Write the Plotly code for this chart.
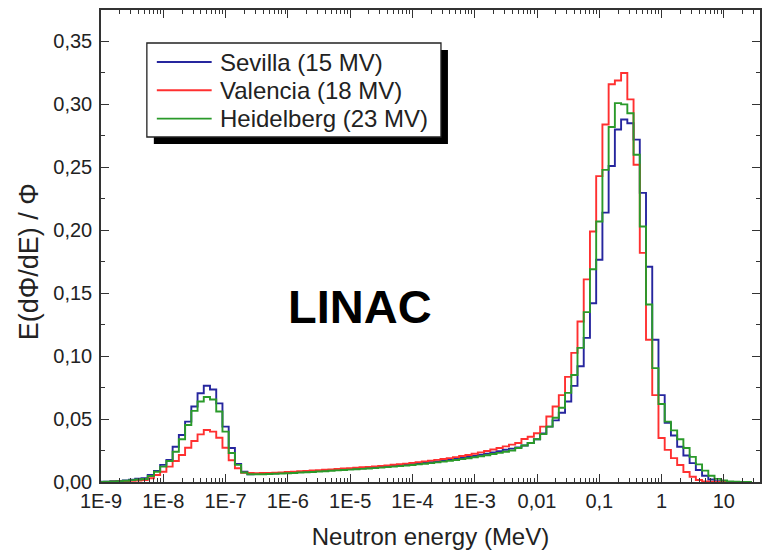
import numpy as np
import plotly.graph_objects as go

# ---- binning: 10 log-bins per decade, bin centres start at log10(E) = -9.0 ----
LOG_FIRST_CENTER = -9.0
LOG_BIN_WIDTH = 0.1

# ---- Sevilla (15 MV) ----
SEVILLA_THERMAL = [0.0002, 0.0003, 0.0006, 0.0009, 0.0013, 0.0019, 0.0026, 0.0031, 0.0056, 0.0088,
                   0.0136, 0.0176, 0.0280, 0.0373, 0.0480, 0.0600, 0.0705, 0.0765, 0.0735, 0.0625,
                   0.0440, 0.0270, 0.0143, 0.0082, 0.0061]
SEVILLA_EPI = [0.0063, 0.0065, 0.0067, 0.0069, 0.0071, 0.0073, 0.0076, 0.0079, 0.0082, 0.0085,
               0.0088, 0.0091, 0.0094, 0.0097, 0.0100, 0.0103, 0.0106, 0.0109, 0.0112, 0.0116,
               0.0120, 0.0124, 0.0128, 0.0132, 0.0137, 0.0142, 0.0147, 0.0152, 0.0158, 0.0164,
               0.0170, 0.0177, 0.0184, 0.0191, 0.0199, 0.0207, 0.0216, 0.0225, 0.0235, 0.0245,
               0.0256, 0.0265]
SEVILLA_FAST = [0.0275, 0.0290, 0.0310, 0.0340, 0.0385, 0.0440, 0.0490, 0.0550, 0.0640, 0.0764,
                0.0920, 0.1145, 0.1420, 0.1766, 0.2140, 0.2510, 0.2800, 0.2880, 0.2850, 0.2720,
                0.2297, 0.1710, 0.1130, 0.0690, 0.0470, 0.0370, 0.0280, 0.0210, 0.0150, 0.0095,
                0.0050, 0.0020, 0.0006, 0.0002, 0.0, 0.0, 0.0, 0.0]

# ---- Valencia (18 MV) ----
VALENCIA_THERMAL = [0.0001, 0.0001, 0.0002, 0.0004, 0.0006, 0.0009, 0.0012, 0.0015, 0.0030, 0.0056,
                    0.0082, 0.0122, 0.0167, 0.0214, 0.0272, 0.0326, 0.0378, 0.0413, 0.0400, 0.0352,
                    0.0272, 0.0173, 0.0109, 0.0074, 0.0071]
VALENCIA_EPI = [0.0070, 0.0071, 0.0072, 0.0074, 0.0076, 0.0079, 0.0082, 0.0085, 0.0088, 0.0091,
                0.0094, 0.0097, 0.0100, 0.0103, 0.0107, 0.0110, 0.0113, 0.0117, 0.0120, 0.0124,
                0.0128, 0.0132, 0.0137, 0.0141, 0.0146, 0.0152, 0.0158, 0.0164, 0.0170, 0.0176,
                0.0183, 0.0190, 0.0198, 0.0206, 0.0215, 0.0225, 0.0235, 0.0246, 0.0258, 0.0270,
                0.0283, 0.0297]
VALENCIA_FAST = [0.0310, 0.0342, 0.0360, 0.0387, 0.0440, 0.0520, 0.0600, 0.0690, 0.0835, 0.1026,
                 0.1275, 0.1610, 0.1990, 0.2430, 0.2840, 0.3160, 0.3190, 0.3250, 0.3040, 0.2520,
                 0.1820, 0.1130, 0.0690, 0.0350, 0.0255, 0.0190, 0.0135, 0.0080, 0.0042, 0.0016,
                 0.0005, 0.0002, 0.0, 0.0, 0.0, 0.0, 0.0, 0.0]

# ---- Heidelberg (23 MV) ----
HEIDELBERG_THERMAL = [0.0001, 0.0002, 0.0004, 0.0007, 0.0010, 0.0015, 0.0020, 0.0024, 0.0048, 0.0082,
                      0.0122, 0.0167, 0.0240, 0.0340, 0.0453, 0.0565, 0.0640, 0.0675, 0.0655, 0.0560,
                      0.0400, 0.0230, 0.0136, 0.0075, 0.0062]
HEIDELBERG_EPI = [0.0061, 0.0062, 0.0064, 0.0066, 0.0068, 0.0070, 0.0072, 0.0075, 0.0078, 0.0080,
                  0.0083, 0.0086, 0.0089, 0.0092, 0.0095, 0.0098, 0.0101, 0.0104, 0.0107, 0.0110,
                  0.0114, 0.0118, 0.0122, 0.0126, 0.0130, 0.0135, 0.0140, 0.0145, 0.0150, 0.0156,
                  0.0162, 0.0168, 0.0175, 0.0182, 0.0189, 0.0197, 0.0205, 0.0213, 0.0222, 0.0231,
                  0.0240, 0.0250]
HEIDELBERG_FAST = [0.0270, 0.0290, 0.0310, 0.0340, 0.0380, 0.0440, 0.0510, 0.0590, 0.0708, 0.0850,
                   0.1066, 0.1350, 0.1690, 0.2070, 0.2480, 0.2820, 0.3010, 0.3000, 0.2930, 0.2600,
                   0.2030, 0.1410, 0.0905, 0.0620, 0.0480, 0.0410, 0.0340, 0.0270, 0.0200, 0.0140,
                   0.0090, 0.0050, 0.0025, 0.0012, 0.0005, 0.0002, 0.0, 0.0]

SERIES_NAMES = ["Sevilla (15 MV)", "Valencia (18 MV)", "Heidelberg (23 MV)"]
SERIES_COLORS = ["#26269e", "#ff3030", "#2a9a2a"]

X_TICK_VALUES = [1e-9, 1e-8, 1e-7, 1e-6, 1e-5, 1e-4, 1e-3, 1e-2, 1e-1, 1, 10]
X_TICK_LABELS = ["1E-9", "1E-8", "1E-7", "1E-6", "1E-5", "1E-4", "1E-3", "0,01", "0,1", "1", "10"]
Y_TICK_VALUES = [0.0, 0.05, 0.10, 0.15, 0.20, 0.25, 0.30, 0.35]
Y_TICK_LABELS = ["0,00", "0,05", "0,10", "0,15", "0,20", "0,25", "0,30", "0,35"]

X_TITLE = "Neutron energy (MeV)"
Y_TITLE = "E(dΦ/dE) / Φ"
PANEL_LABEL = "LINAC"

FONT = "Liberation Sans, Arial, sans-serif"
TEXT_COLOR = "#222222"
AXIS_COLOR = "#333333"

series_values = [
    SEVILLA_THERMAL + SEVILLA_EPI + SEVILLA_FAST,
    VALENCIA_THERMAL + VALENCIA_EPI + VALENCIA_FAST,
    HEIDELBERG_THERMAL + HEIDELBERG_EPI + HEIDELBERG_FAST,
]

fig = go.Figure()
for name, color, vals in zip(SERIES_NAMES, SERIES_COLORS, series_values):
    n = len(vals)
    centers = LOG_FIRST_CENTER + LOG_BIN_WIDTH * np.arange(n)
    edges = np.append(centers - LOG_BIN_WIDTH / 2, centers[-1] + LOG_BIN_WIDTH / 2)
    fig.add_trace(go.Scatter(x=10 ** edges, y=list(vals) + [vals[-1]], mode="lines",
                             name=name, showlegend=False,
                             line=dict(color=color, width=1.9, shape="hv")))

# minor tick positions (2..9 within each decade)
x_minor = [d * 10.0 ** k for k in range(-9, 2) for d in range(2, 10)]

axis_common = dict(showline=True, linecolor=AXIS_COLOR, linewidth=1.5, mirror="allticks",
                   ticks="inside", ticklen=8, tickwidth=1.3, tickcolor=AXIS_COLOR,
                   showgrid=False, zeroline=False,
                   tickfont=dict(family=FONT, size=20, color=TEXT_COLOR))

fig.update_xaxes(type="log", range=[-9, 1.58], tickmode="array",
                 tickvals=X_TICK_VALUES, ticktext=X_TICK_LABELS,
                 minor=dict(tickmode="array", tickvals=x_minor, ticks="inside",
                            ticklen=4, tickwidth=1.2, tickcolor=AXIS_COLOR),
                 title=dict(text=X_TITLE, font=dict(family=FONT, size=24, color=TEXT_COLOR),
                            standoff=17),
                 **axis_common)
fig.update_yaxes(range=[0, 0.375], tickmode="array",
                 tickvals=Y_TICK_VALUES, ticktext=Y_TICK_LABELS,
                 ticklabelstandoff=3,
                 minor=dict(dtick=0.025, tick0=0, ticks="inside",
                            ticklen=4, tickwidth=1.2, tickcolor=AXIS_COLOR),
                 **axis_common)

# page geometry -> paper coordinates (plot area x 101..762, y 10..482)
W, H = 765, 553
L, R, T, B = 101, 3, 10, 71
pw, ph = W - L - R, H - T - B

def px(xp):
    return (xp - L) / pw

def py(yp):
    return 1 - (yp - T) / ph

# legend box with drop shadow
fig.add_shape(type="rect", xref="paper", yref="paper",
              x0=px(154), x1=px(449), y0=py(50), y1=py(144),
              fillcolor="black", line=dict(width=0), layer="above")
fig.add_shape(type="rect", xref="paper", yref="paper",
              x0=px(147), x1=px(442), y0=py(43), y1=py(137),
              fillcolor="white", line=dict(color=TEXT_COLOR, width=1.3), layer="above")
for i, (name, color) in enumerate(zip(SERIES_NAMES, SERIES_COLORS)):
    row_y = 62 + 28.3 * i
    fig.add_shape(type="line", xref="paper", yref="paper",
                  x0=px(157), x1=px(212), y0=py(row_y), y1=py(row_y),
                  line=dict(color=color, width=1.9), layer="above")
    fig.add_annotation(text=name, xref="paper", yref="paper",
                       x=px(218), y=py(row_y), xanchor="left", yanchor="middle",
                       showarrow=False,
                       font=dict(family=FONT, size=24, color=TEXT_COLOR))

fig.add_annotation(text=PANEL_LABEL, xref="paper", yref="paper",
                   x=px(361), y=py(306), xanchor="center", yanchor="middle",
                   showarrow=False,
                   font=dict(family=FONT, size=47, color="black", weight="bold"))
fig.add_annotation(text=Y_TITLE, xref="paper", yref="paper",
                   x=px(29), y=py(262), xanchor="center", yanchor="middle",
                   showarrow=False, textangle=-90,
                   font=dict(family=FONT, size=27, color=TEXT_COLOR))

fig.update_layout(
    width=W, height=H,
    margin=dict(l=L, r=R, t=T, b=B),
    paper_bgcolor="white", plot_bgcolor="white",
    showlegend=False,
)

fig.write_html("out.html")
